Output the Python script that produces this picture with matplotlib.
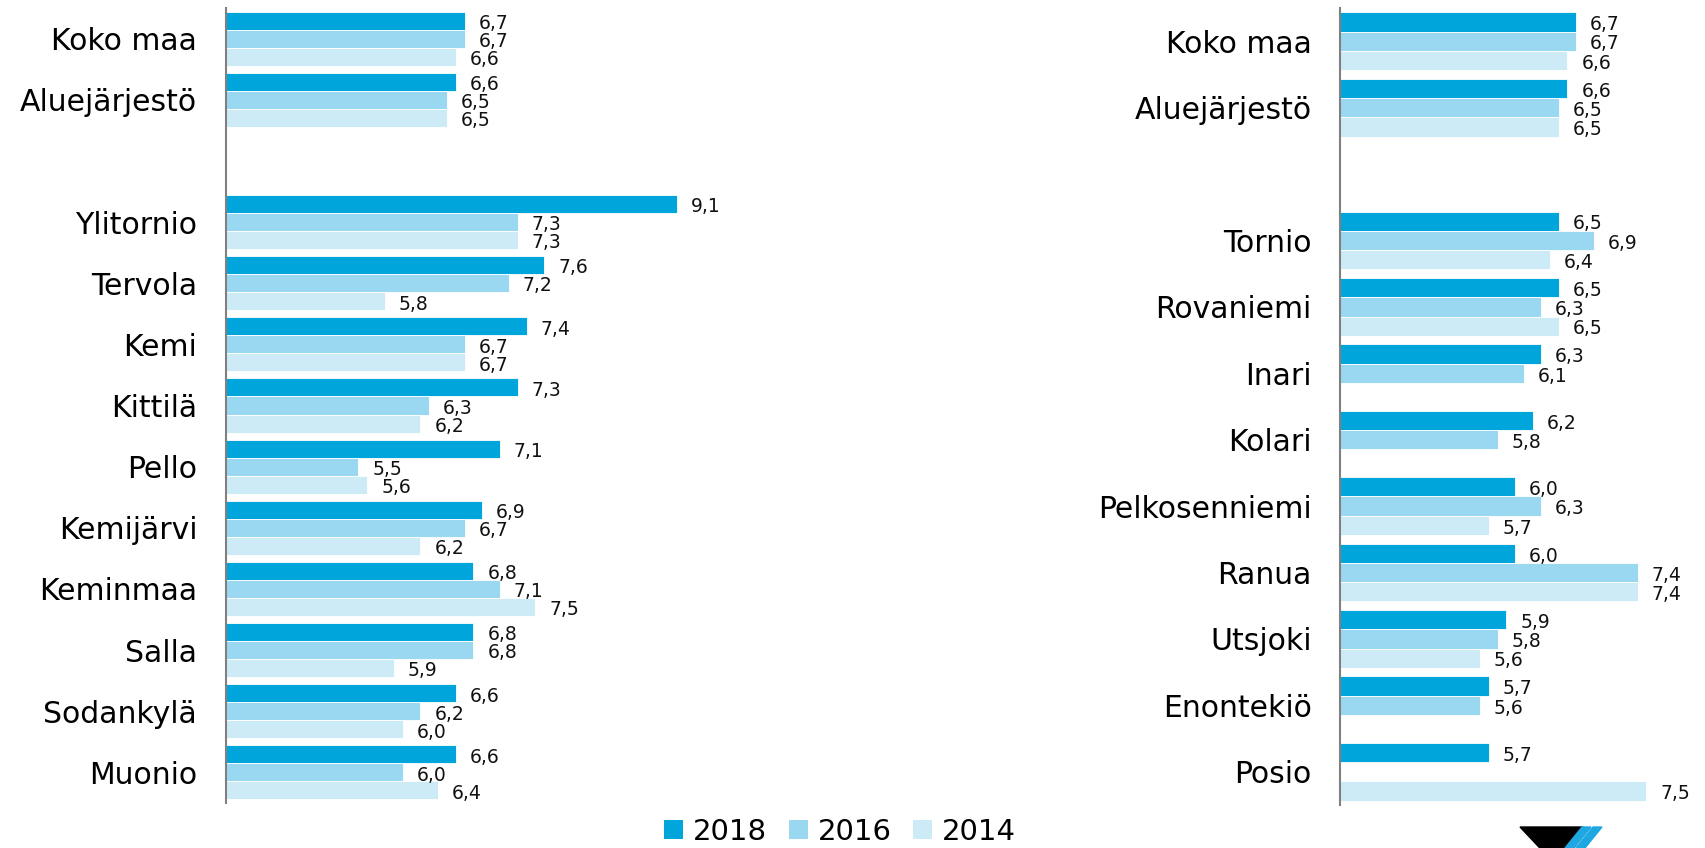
import matplotlib
matplotlib.use("Agg")
import matplotlib.pyplot as plt
import numpy as np
from matplotlib.patches import Patch, Polygon

# left panel
cats_left = ["Koko maa", "Aluejärjestö", "", "Ylitornio", "Tervola", "Kemi", "Kittilä",
             "Pello", "Kemijärvi", "Keminmaa", "Salla", "Sodankylä", "Muonio"]
left_2018 = [6.7, 6.6, np.nan, 9.1, 7.6, 7.4, 7.3, 7.1, 6.9, 6.8, 6.8, 6.6, 6.6]
left_2016 = [6.7, 6.5, np.nan, 7.3, 7.2, 6.7, 6.3, 5.5, 6.7, 7.1, 6.8, 6.2, 6.0]
left_2014 = [6.6, 6.5, np.nan, 7.3, 5.8, 6.7, 6.2, 5.6, 6.2, 7.5, 5.9, 6.0, 6.4]

# right panel
cats_right = ["Koko maa", "Aluejärjestö", "", "Tornio", "Rovaniemi", "Inari", "Kolari",
              "Pelkosenniemi", "Ranua", "Utsjoki", "Enontekiö", "Posio"]
right_2018 = [6.7, 6.6, np.nan, 6.5, 6.5, 6.3, 6.2, 6.0, 6.0, 5.9, 5.7, 5.7]
right_2016 = [6.7, 6.5, np.nan, 6.9, 6.3, 6.1, 5.8, 6.3, 7.4, 5.8, 5.6, np.nan]
right_2014 = [6.6, 6.5, np.nan, 6.4, 6.5, np.nan, np.nan, 5.7, 7.4, 5.6, np.nan, 7.5]

years = ["2018", "2016", "2014"]
colors = ["#00a5db", "#9ad8f1", "#cdebf7"]

W, H = 1706, 848
fig = plt.figure(figsize=(W / 100, H / 100), dpi=100)


def panel(rect, cats, series, xmax, h):
    ax = fig.add_axes(rect)
    y = np.arange(len(cats))
    for k, (vals, col) in enumerate(zip(series, colors)):
        pos = y + (k - 1) * h
        ax.barh(pos, vals, height=h, color=col, edgecolor="white", linewidth=0.6, left=0)
        for p, v in zip(pos, vals):
            if np.isnan(v):
                continue
            ax.annotate(f"{v:.1f}".replace(".", ","), (v, p), xytext=(10, -2),
                        textcoords="offset points", va="center", ha="left",
                        fontsize=13.5, color="#111111")
    ax.set_xlim(4, xmax)
    ax.set_ylim(len(cats) - 0.5, -0.5)
    ax.set_yticks(y)
    ax.set_yticklabels(cats, fontsize=21.5)
    ax.tick_params(axis="y", length=0, pad=20.5)
    ax.set_xticks([])
    for s in ["top", "right", "bottom"]:
        ax.spines[s].set_visible(False)
    ax.spines["left"].set_color("#808080")
    ax.spines["left"].set_linewidth(1.5)
    return ax


panel([225.7 / W, 45 / H, 531 / W, 795 / H], cats_left,
      [left_2018, left_2016, left_2014], 10, 0.295)
panel([1340 / W, 43 / H, 350 / W, 797 / H], cats_right,
      [right_2018, right_2016, right_2014], 8, 0.29)

handles = [Patch(facecolor=c, edgecolor="none") for c in colors]
fig.legend(handles, years, loc="center", bbox_to_anchor=(840 / W, 16 / H), ncol=3,
           frameon=False, fontsize=21, handlelength=0.65, handleheight=0.65,
           handletextpad=0.34, columnspacing=0.74, borderpad=0, borderaxespad=0)

# logo fragment, bottom right
def fx(x):
    return x / W


def fy(y):
    return 1 - y / H


fig.add_artist(Polygon([(fx(1520), fy(827)), (fx(1583), fy(827)), (fx(1553), fy(862))],
                       closed=True, transform=fig.transFigure, color="black", clip_on=False))
for x0 in (1582, 1593):
    fig.add_artist(Polygon([(fx(x0), fy(827)), (fx(x0 + 9), fy(827)),
                            (fx(x0 - 8), fy(848)), (fx(x0 - 17), fy(848))],
                           closed=True, transform=fig.transFigure, color="#1ea7e1"))

fig.savefig("out.png", dpi=100)
